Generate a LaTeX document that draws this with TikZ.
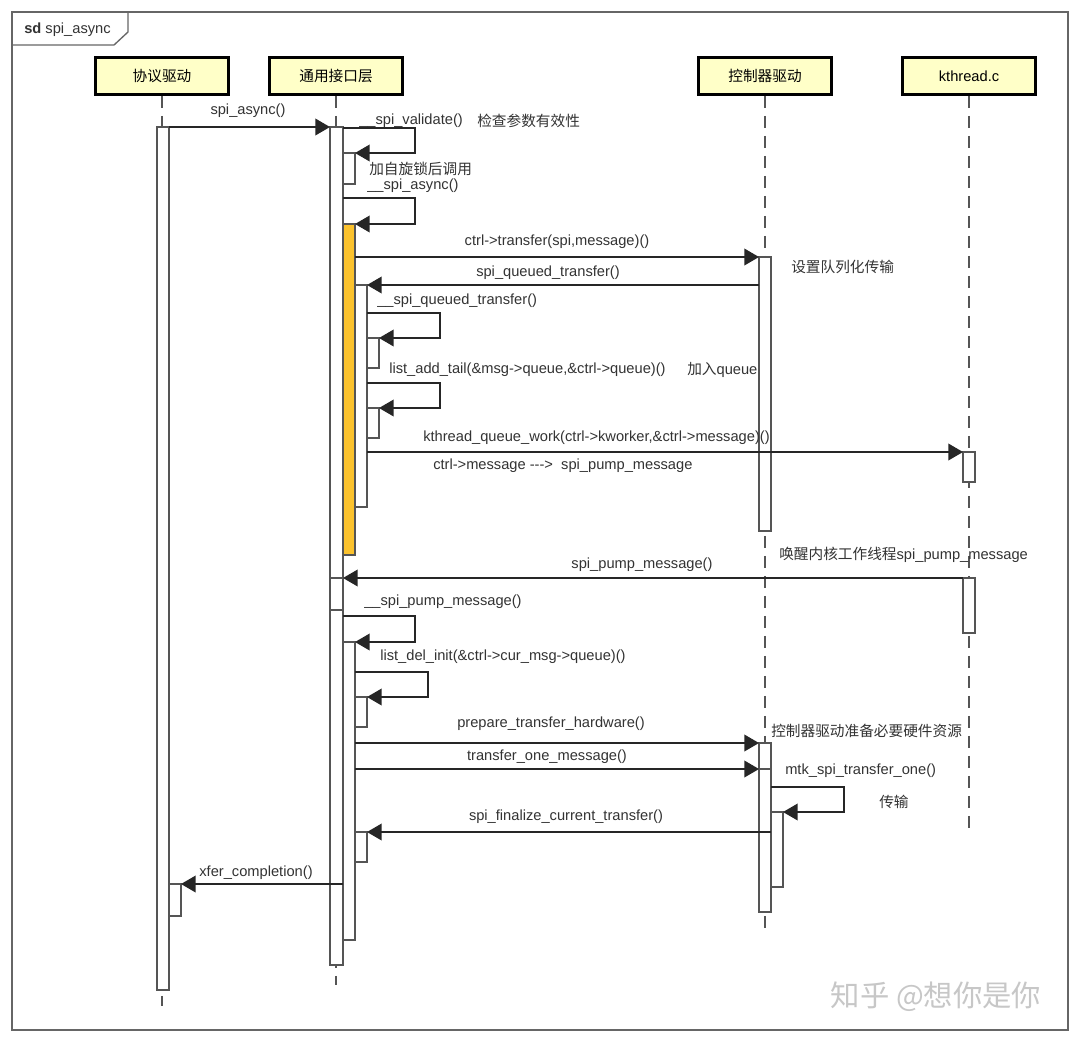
\documentclass[tikz,border=0pt]{standalone}
\usepackage{fontspec}
\setmainfont{Liberation Sans}
\newfontfamily\cjk{Noto Sans CJK SC}
\usetikzlibrary{arrows.meta}
\definecolor{hdrfill}{RGB}{255,255,200}
\definecolor{orangeact}{RGB}{251,194,45}
\definecolor{lgray}{RGB}{85,85,85}
\tikzset{
  hdr/.style={draw=black, line width=2.2pt, fill=hdrfill, minimum width=100pt, minimum height=27.5pt, inner sep=0pt, font=\fontsize{11}{13}\selectfont},
  life/.style={draw=lgray, line width=1.4pt, dash pattern=on 9pt off 6pt},
  act/.style={draw=lgray, line width=0.8pt, fill=white},
  oact/.style={draw=lgray, line width=0.8pt, fill=orangeact},
  msg/.style={draw=black!85, line width=1.1pt, -{Triangle[length=11pt,width=12.5pt]}},
  lbl/.style={inner sep=0pt, font=\fontsize{11}{13}\selectfont, text=black!80},
}
\begin{document}
\begin{tikzpicture}[x=0.75pt,y=-0.75pt]
\useasboundingbox (0,0) rectangle (1080,1043);
\fill[white] (0,0) rectangle (1080,1043);
% frame
\draw[draw=black!60, line width=1.1pt] (12,12) rectangle (1068,1030);
\draw[draw=black!60, line width=1pt] (12,45) -- (114,45) -- (128,32) -- (128,12);
\node[lbl, anchor=west] (title) at (24,30) {\textbf{sd} spi\_async};

% headers
\node[hdr] (p1) at (162,76) {\cjk 协议驱动};
\node[hdr] (p2) at (336,76) {\cjk 通用接口层};
\node[hdr] (p3) at (765,76) {\cjk 控制器驱动};
\node[hdr] (p4) at (969,76) {kthread.c};

% lifelines
\coordinate (l1) at (162,1006);
\coordinate (l2) at (336,985);
\coordinate (l3) at (765,931);
\coordinate (l4) at (969,834);
\draw[life] (p1.south) -- (l1);
\draw[life] (p2.south) -- (l2);
\draw[life] (p3.south) -- (l3);
\draw[life] (p4.south) -- (l4);

% activations
\path[act] (157,127) rectangle (169,990);
\path[act] (169,884) rectangle (181,916);
\path[act] (330,127) rectangle (343,965);
\path[act] (343,153) rectangle (355,184);
\path[oact] (343,224) rectangle (355,555);
\path[act] (355,285) rectangle (367,507);
\path[act] (367,338) rectangle (379,368);
\path[act] (367,408) rectangle (379,438);
\path[act] (330,578) rectangle (343,610);
\path[act] (343,642) rectangle (355,940);
\path[act] (355,697) rectangle (367,727);
\path[act] (355,832) rectangle (367,862);
\path[act] (759,257) rectangle (771,531);
\path[act] (759,743) rectangle (771,912);
\draw[draw=lgray, line width=0.8pt] (759,769) -- (771,769);
\path[act] (771,812) rectangle (783,887);
\path[act] (963,452) rectangle (975,482);
\path[act] (963,578) rectangle (975,633);

% message endpoints
\coordinate (m1s) at (169,127);  \coordinate (m1e) at (330,127);
\coordinate (m4s) at (355,257);  \coordinate (m4e) at (759,257);
\coordinate (m5s) at (759,285);  \coordinate (m5e) at (367,285);
\coordinate (m8s) at (367,452);  \coordinate (m8e) at (963,452);
\coordinate (m9s) at (963,578);  \coordinate (m9e) at (343,578);
\coordinate (m12s) at (355,743); \coordinate (m12e) at (759,743);
\coordinate (m13s) at (355,769); \coordinate (m13e) at (759,769);
\coordinate (m15s) at (771,832); \coordinate (m15e) at (367,832);
\coordinate (m16s) at (343,884); \coordinate (m16e) at (181,884);
\coordinate (s1s) at (343,128); \coordinate (s1e) at (355,153);
\coordinate (s2s) at (343,198); \coordinate (s2e) at (355,224);
\coordinate (s3s) at (367,313); \coordinate (s3e) at (379,338);
\coordinate (s4s) at (367,383); \coordinate (s4e) at (379,408);
\coordinate (s5s) at (343,616); \coordinate (s5e) at (355,642);
\coordinate (s6s) at (355,672); \coordinate (s6e) at (367,697);
\coordinate (s7s) at (771,787); \coordinate (s7e) at (783,812);

% messages
\draw[msg] (m1s) -- (m1e);
\draw[msg] (m4s) -- (m4e);
\draw[msg] (m5s) -- (m5e);
\draw[msg] (m8s) -- (m8e);
\draw[msg] (m9s) -- (m9e);
\draw[msg] (m12s) -- (m12e);
\draw[msg] (m13s) -- (m13e);
\draw[msg] (m15s) -- (m15e);
\draw[msg] (m16s) -- (m16e);
% self calls
\draw[msg] (s1s) -- (415,128) -- (415,153) -- (s1e);
\draw[msg] (s2s) -- (415,198) -- (415,224) -- (s2e);
\draw[msg] (s3s) -- (440,313) -- (440,338) -- (s3e);
\draw[msg] (s4s) -- (440,383) -- (440,408) -- (s4e);
\draw[msg] (s5s) -- (415,616) -- (415,642) -- (s5e);
\draw[msg] (s6s) -- (428,672) -- (428,697) -- (s6e);
\draw[msg] (s7s) -- (844,787) -- (844,812) -- (s7e);

% labels
\node[lbl] (t1) at (248,111) {spi\_async()};
\node[lbl, anchor=west] (t2) at (359,121) {\_\_spi\_validate()};
\node[lbl, anchor=west] (t3) at (477,121) {\cjk 检查参数有效性};
\node[lbl, anchor=west] (t4) at (369,169) {\cjk 加自旋锁后调用};
\node[lbl, anchor=west] (t5) at (367,186) {\_\_spi\_async()};
\node[lbl] (t6) at (557,242) {ctrl->transfer(spi,message)()};
\node[lbl, anchor=west] (t7) at (791,267) {\cjk 设置队列化传输};
\node[lbl] (t8) at (548,273) {spi\_queued\_transfer()};
\node[lbl, anchor=west] (t9) at (377,301) {\_\_spi\_queued\_transfer()};
\node[lbl, anchor=west] (t10) at (389,370) {list\_add\_tail(\&msg->queue,\&ctrl->queue)()};
\node[lbl, anchor=west] (t11) at (687,370) {{\cjk 加入}queue};
\node[lbl, anchor=west] (t12) at (423,438) {kthread\_queue\_work(ctrl->kworker,\&ctrl->message)()};
\node[lbl, anchor=west] (t13) at (433,466) {ctrl->message -{}-{}->\ \ spi\_pump\_message};
\node[lbl, anchor=west] (t14) at (779,555) {{\cjk 唤醒内核工作线程}spi\_pump\_message};
\node[lbl] (t15) at (642,565) {spi\_pump\_message()};
\node[lbl, anchor=west] (t16) at (364,602) {\_\_spi\_pump\_message()};
\node[lbl, anchor=west] (t17) at (380,657) {list\_del\_init(\&ctrl->cur\_msg->queue)()};
\node[lbl] (t18) at (551,724) {prepare\_transfer\_hardware()};
\node[lbl, anchor=west] (t19) at (771,731) {\cjk 控制器驱动准备必要硬件资源};
\node[lbl] (t20) at (547,757) {transfer\_one\_message()};
\node[lbl, anchor=west] (t21) at (785,771) {mtk\_spi\_transfer\_one()};
\node[lbl, anchor=west] (t22) at (879,802) {\cjk 传输};
\node[lbl] (t23) at (566,817) {spi\_finalize\_current\_transfer()};
\node[lbl] (t24) at (256,873) {xfer\_completion()};

% watermark
\node[inner sep=0pt, text=black!22, font=\cjk\fontsize{22}{24}\selectfont] (wm) at (936,997) {知乎 @想你是你};
\end{tikzpicture}
\end{document}
